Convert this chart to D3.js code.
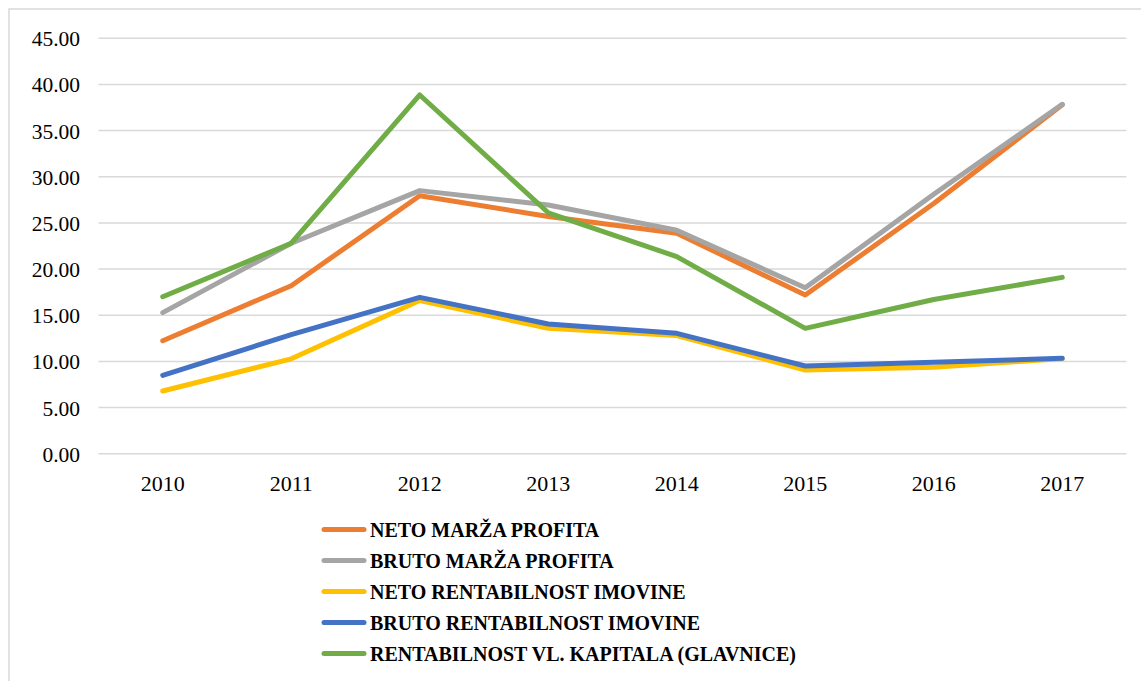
<!DOCTYPE html>
<html>
<head>
<meta charset="utf-8">
<script src="https://cdn.jsdelivr.net/npm/d3@7"></script>
<style>
  html, body { margin: 0; padding: 0; background: #fff; }
  svg { display: block; }
  svg text { font-family: "Liberation Serif", "Times New Roman", Times, "DejaVu Serif", serif; }
</style>
</head>
<body>
<svg id="chart" width="1141" height="681"></svg>
<script>
const years = ["2010", "2011", "2012", "2013", "2014", "2015", "2016", "2017"];
const yTicks = [0, 5, 10, 15, 20, 25, 30, 35, 40, 45];

const netoMarza   = [12.24, 18.2, 27.95, 25.7, 23.88, 17.19, 27.1, 37.8];
const brutoMarza  = [15.28, 22.8, 28.5, 26.94, 24.2, 17.98, 28.1, 37.85];
const netoRent    = [6.79, 10.28, 16.6, 13.58, 12.8, 9.07, 9.36, 10.3];
const brutoRent   = [8.49, 12.9, 16.94, 14.05, 13.04, 9.5, 9.9, 10.33];
const rentKapital = [17.0, 22.8, 38.86, 26.1, 21.35, 13.58, 16.7, 19.1];

const seriesNames = [
  "NETO MARŽA PROFITA",
  "BRUTO MARŽA PROFITA",
  "NETO RENTABILNOST IMOVINE",
  "BRUTO RENTABILNOST IMOVINE",
  "RENTABILNOST VL. KAPITALA (GLAVNICE)"
];
const seriesValues = [netoMarza, brutoMarza, netoRent, brutoRent, rentKapital];
const seriesColors = ["#ED7D31", "#A5A5A5", "#FFC000", "#4472C4", "#70AD47"];

const svg = d3.select("#chart");

// chart border
svg.append("rect")
  .attr("x", 9).attr("y", 9)
  .attr("width", 1200).attr("height", 700)
  .attr("fill", "#fff")
  .attr("stroke", "#d9d9d9")
  .attr("stroke-width", 1.5);

const plotLeft = 98.5, plotRight = 1126.5;
const x = d3.scaleBand().domain(years).range([plotLeft, plotRight]);
const y = d3.scaleLinear().domain([0, 45]).range([453.7, 38.3]);

// gridlines
svg.append("g")
  .selectAll("line")
  .data(yTicks)
  .join("line")
  .attr("x1", plotLeft).attr("x2", plotRight)
  .attr("y1", d => y(d)).attr("y2", d => y(d))
  .attr("stroke", "#d9d9d9")
  .attr("stroke-width", 1.5);

// y axis
const yAxis = d3.axisLeft(y)
  .tickValues(yTicks)
  .tickFormat(d3.format(".2f"))
  .tickSize(0)
  .tickPadding(0);
const yg = svg.append("g")
  .attr("transform", `translate(80,0)`)
  .call(yAxis)
  .attr("font-family", null)
  .attr("font-size", null);
yg.select(".domain").remove();
yg.selectAll("text")
  .style("font-size", "21.5px")
  .attr("fill", "#000")
  .attr("dy", "0.35em");

// x axis
const xAxis = d3.axisBottom(x).tickSize(0).tickPadding(0);
const xg = svg.append("g")
  .attr("transform", `translate(0,475)`)
  .call(xAxis)
  .attr("font-family", null)
  .attr("font-size", null);
xg.select(".domain").remove();
xg.selectAll("text")
  .style("font-size", "22px")
  .attr("fill", "#000")
  .attr("dy", "0.71em");

// lines
const line = d3.line()
  .x((d, i) => x(years[i]) + x.bandwidth() / 2)
  .y(d => y(d));

svg.append("g")
  .selectAll("path")
  .data(seriesValues)
  .join("path")
  .attr("d", d => line(d))
  .attr("fill", "none")
  .attr("stroke", (d, i) => seriesColors[i])
  .attr("stroke-width", 5)
  .attr("stroke-linejoin", "round")
  .attr("stroke-linecap", "round");

// legend
const legend = svg.append("g");
const leg = legend.selectAll("g")
  .data(seriesNames)
  .join("g")
  .attr("transform", (d, i) => `translate(0,${529.5 + i * 31})`);
leg.append("line")
  .attr("x1", 324).attr("x2", 364)
  .attr("y1", 0).attr("y2", 0)
  .attr("stroke", (d, i) => seriesColors[i])
  .attr("stroke-width", 5)
  .attr("stroke-linecap", "round");
leg.append("text")
  .attr("x", 370)
  .attr("y", 0)
  .attr("dy", "0.36em")
  .style("font-weight", "bold")
  .style("font-size", "20px")
  .attr("fill", "#000")
  .text(d => d);
</script>
</body>
</html>
